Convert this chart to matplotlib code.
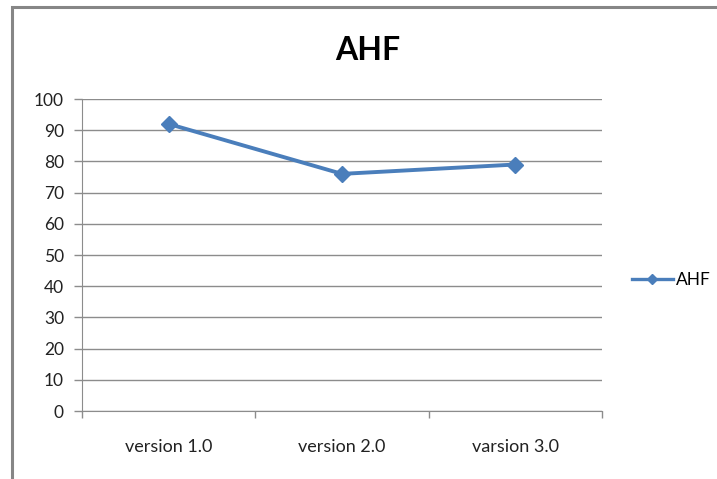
import matplotlib.pyplot as plt
from matplotlib.lines import Line2D
from matplotlib.patches import Rectangle

categories = ["version 1.0", "version 2.0", "varsion 3.0"]
ahf = [92, 76, 79]
yticks = list(range(0, 101, 10))

plt.rcParams['font.family'] = ['Lato', 'DejaVu Sans']

W, H = 717, 479
fig = plt.figure(figsize=(W / 100, H / 100), dpi=100)
fig.patch.set_facecolor('white')

# outer chart frame (runs past the right and bottom edges)
fig.patches.append(Rectangle((12 / W, -0.1), 1.2, (H - 7) / H + 0.1,
                             transform=fig.transFigure, fill=False,
                             edgecolor='#868686', linewidth=2.2))

ax = fig.add_axes([82 / W, (H - 411) / H, (602 - 82) / W, (411 - 99) / H])
x = range(len(categories))
ax.plot(x, ahf, color='#4a7ebb', linewidth=2.8, marker='D', markersize=8,
        label='AHF', zorder=3)

ax.set_xlim(-0.5, len(categories) - 0.5)
ax.set_ylim(0, 100)
ax.set_yticks(yticks)
ax.set_yticklabels([str(v) for v in yticks])
ax.yaxis.grid(True, color='#8c8c8c', linewidth=1.0)
ax.set_axisbelow(True)

# category ticks sit on the boundaries, labels at the centres
ax.set_xticks([i - 0.5 for i in range(len(categories) + 1)])
ax.set_xticklabels([])
ax.set_xticks(list(x), minor=True)
ax.set_xticklabels(categories, minor=True)
ax.tick_params(axis='x', which='minor', length=0, pad=20, labelsize=13,
               labelcolor='#222222')
ax.tick_params(axis='x', which='major', length=5, color='#8c8c8c', width=1)
ax.tick_params(axis='y', length=6, color='#8c8c8c', width=1, labelsize=12.5,
               labelcolor='#222222', pad=7)

for side in ['top', 'right']:
    ax.spines[side].set_visible(False)
ax.spines['left'].set_color('#8c8c8c')
ax.spines['bottom'].set_color('#8c8c8c')

fig.text(368 / W, 1 - 50 / H, 'AHF', ha='center', va='center',
         fontsize=23, fontweight='bold', color='black')

handle = Line2D([], [], color='#4a7ebb', linewidth=2.4, marker='D',
                markersize=5)
fig.legend([handle], ['AHF'], loc='center left',
           bbox_to_anchor=(632 / W, 1 - 280 / H), frameon=False,
           fontsize=12.5, handlelength=2.35, handletextpad=0.17,
           borderaxespad=0, borderpad=0)

fig.savefig('out.png', dpi=100)
